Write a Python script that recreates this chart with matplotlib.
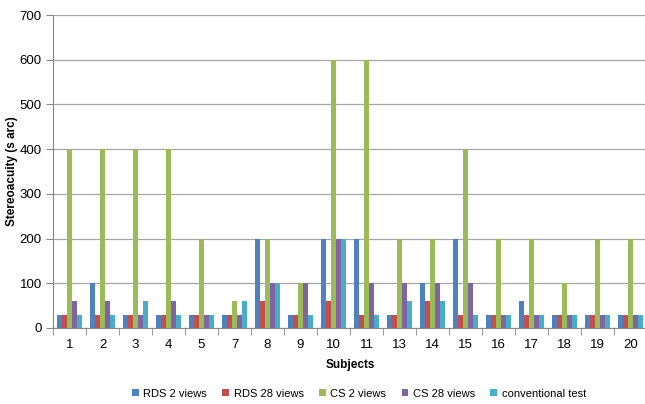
import matplotlib
matplotlib.use("Agg")
import matplotlib.pyplot as plt
import numpy as np

subjects = ["1", "2", "3", "4", "5", "7", "8", "9", "10", "11",
            "13", "14", "15", "16", "17", "18", "19", "20"]
rds_2 = [30, 100, 30, 30, 30, 30, 200, 30, 200, 200, 30, 100, 200, 30, 60, 30, 30, 30]
rds_28 = [30, 30, 30, 30, 30, 30, 60, 30, 60, 30, 30, 60, 30, 30, 30, 30, 30, 30]
cs_2 = [400, 400, 400, 400, 200, 60, 200, 100, 600, 600, 200, 200, 400, 200, 200, 100, 200, 200]
cs_28 = [60, 60, 30, 60, 30, 30, 100, 100, 200, 100, 100, 100, 100, 30, 30, 30, 30, 30]
conventional = [30, 30, 60, 30, 30, 60, 100, 30, 200, 30, 60, 60, 30, 30, 30, 30, 30, 30]

series = [
    ("RDS 2 views", rds_2, "#4F81BD"),
    ("RDS 28 views", rds_28, "#C0504D"),
    ("CS 2 views", cs_2, "#9BBB59"),
    ("CS 28 views", cs_28, "#8064A2"),
    ("conventional test", conventional, "#4BACC6"),
]

plt.rcParams["font.family"] = ["Liberation Sans", "DejaVu Sans"]

fig = plt.figure(figsize=(6.45, 4.04), dpi=100)
ax = fig.add_axes([53 / 645, 76 / 404, 594 / 645, 313 / 404])

x = np.arange(len(subjects))
width = 0.15
for i, (label, vals, color) in enumerate(series):
    ax.bar(x + (i - 2) * width, vals, width, color=color, label=label,
           linewidth=0, zorder=3)

ax.set_xlim(-0.5, len(subjects) - 0.5)
ax.set_ylim(0, 700)
ax.set_yticks(range(0, 701, 100))
ax.yaxis.grid(True, color="#A6A6A6", linewidth=0.9, zorder=0)

ax.set_xticks(x)
ax.set_xticklabels(subjects, fontsize=9.5)
ax.set_xticks(np.arange(-0.5, len(subjects), 1), minor=True)
ax.tick_params(axis="x", which="major", length=0, pad=8)
ax.tick_params(axis="x", which="minor", length=5, color="#868686")
ax.tick_params(axis="y", length=5, color="#868686", labelsize=9.5, pad=3)

for side in ("top", "right"):
    ax.spines[side].set_visible(False)
for side in ("left", "bottom"):
    ax.spines[side].set_color("#868686")

ax.set_ylabel("Stereoacuity (s arc)", fontsize=8.5, fontweight="bold", labelpad=1)
ax.set_xlabel("Subjects", fontsize=8.5, fontweight="bold", labelpad=6)

ax.legend(loc="upper center", bbox_to_anchor=(0.515, -0.162), ncol=5,
          frameon=False, fontsize=8, handlelength=0.6, handleheight=0.6,
          columnspacing=1.4, handletextpad=0.4)

fig.savefig("out.png", dpi=100)
